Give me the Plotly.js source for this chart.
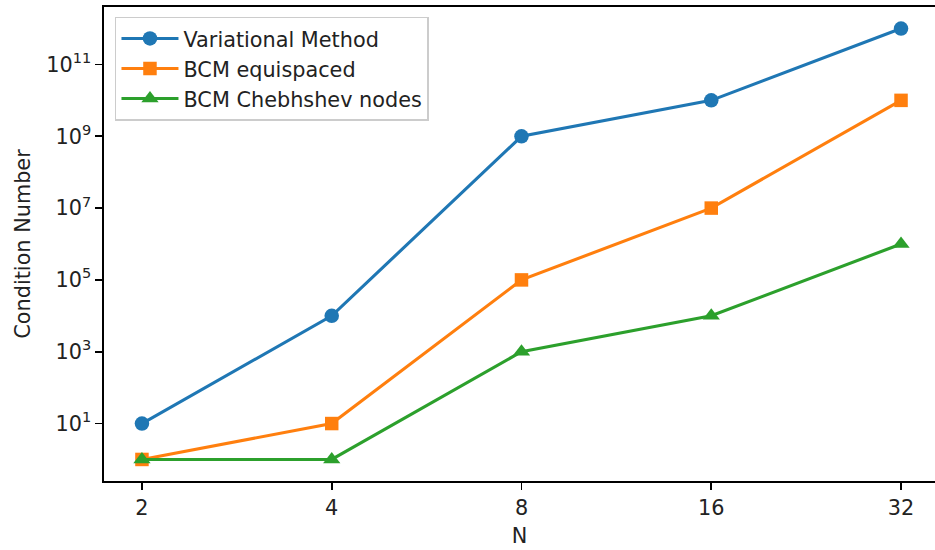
<!DOCTYPE html>
<html>
<head>
<meta charset="utf-8">
<script src="https://cdn.plot.ly/plotly-3.0.1.min.js"></script>
<style>html,body{margin:0;padding:0;background:#fff;}#chart{width:935px;height:550px;}</style>
</head>
<body>
<div id="chart"></div>
<script>
const N = [2, 4, 8, 16, 32];
const xTickText = ["2", "4", "8", "16", "32"];
const variational = [1e1, 1e4, 1e9, 1e10, 1e12];
const bcmEquispaced = [1e0, 1e1, 1e5, 1e7, 1e10];
const bcmChebyshev = [1e0, 1e0, 1e3, 1e4, 1e6];
const yTickVals = [1e1, 1e3, 1e5, 1e7, 1e9, 1e11];
const yTickText = ["10<sup>1</sup>", "10<sup>3</sup>", "10<sup>5</sup>", "10<sup>7</sup>", "10<sup>9</sup>", "10<sup>11</sup>"];
const seriesNames = ["Variational Method", "BCM equispaced", "BCM Chebhshev nodes"];

const FONT = "DejaVu Sans, sans-serif";
const FS = 20.8;

function trace(y, name, color, symbol, size) {
  return {
    x: N, y: y, name: name, type: "scatter", mode: "lines+markers",
    line: {color: color, width: 3.1},
    marker: {color: color, symbol: symbol, size: size, line: {width: 0}}
  };
}

const data = [
  trace(variational, seriesNames[0], "#1f77b4", "circle", 14.5),
  trace(bcmEquispaced, seriesNames[1], "#ff7f0e", "square", 13.5),
  trace(bcmChebyshev, seriesNames[2], "#2ca02c", "triangle-up", 15)
];

const L2 = Math.log10(2);
const layout = {
  width: 935, height: 550,
  margin: {l: 104, r: 0, t: 7, b: 69, pad: 0},
  paper_bgcolor: "#fff", plot_bgcolor: "#fff",
  font: {family: FONT, size: FS, color: "#000"},
  showlegend: true,
  legend: {
    x: 0.0132, y: 0.979, xanchor: "left", yanchor: "top",
    bgcolor: "rgba(255,255,255,0.8)", bordercolor: "#cccccc", borderwidth: 1.5,
    font: {family: FONT, size: FS, color: "#222"},
    itemwidth: 57,
    tracegroupgap: 0
  },
  xaxis: {
    type: "log", range: [0.8 * L2, 5.179 * L2],
    tickmode: "array", tickvals: N, ticktext: xTickText,
    showgrid: false, zeroline: false,
    showline: true, mirror: true, linecolor: "#000", linewidth: 1.67,
    ticks: "outside", ticklen: 7, tickwidth: 1.67, tickcolor: "#000",
    tickfont: {family: FONT, size: FS, color: "#222"},
    title: {text: "N", font: {family: FONT, size: FS, color: "#222"}, standoff: 10},
    automargin: false
  },
  yaxis: {
    type: "log", range: [-0.6, 12.6],
    tickmode: "array", tickvals: yTickVals, ticktext: yTickText,
    showgrid: false, zeroline: false,
    showline: true, linecolor: "#000", linewidth: 1.67,
    ticks: "outside", ticklen: 7, tickwidth: 1.67, tickcolor: "#000",
    tickfont: {family: FONT, size: FS, color: "#222"},
    title: {text: "Condition Number", font: {family: FONT, size: FS, color: "#222"}, standoff: 10},
    automargin: false
  }
};

Plotly.newPlot("chart", data, layout, {displayModeBar: false, staticPlot: true});
</script>
</body>
</html>
